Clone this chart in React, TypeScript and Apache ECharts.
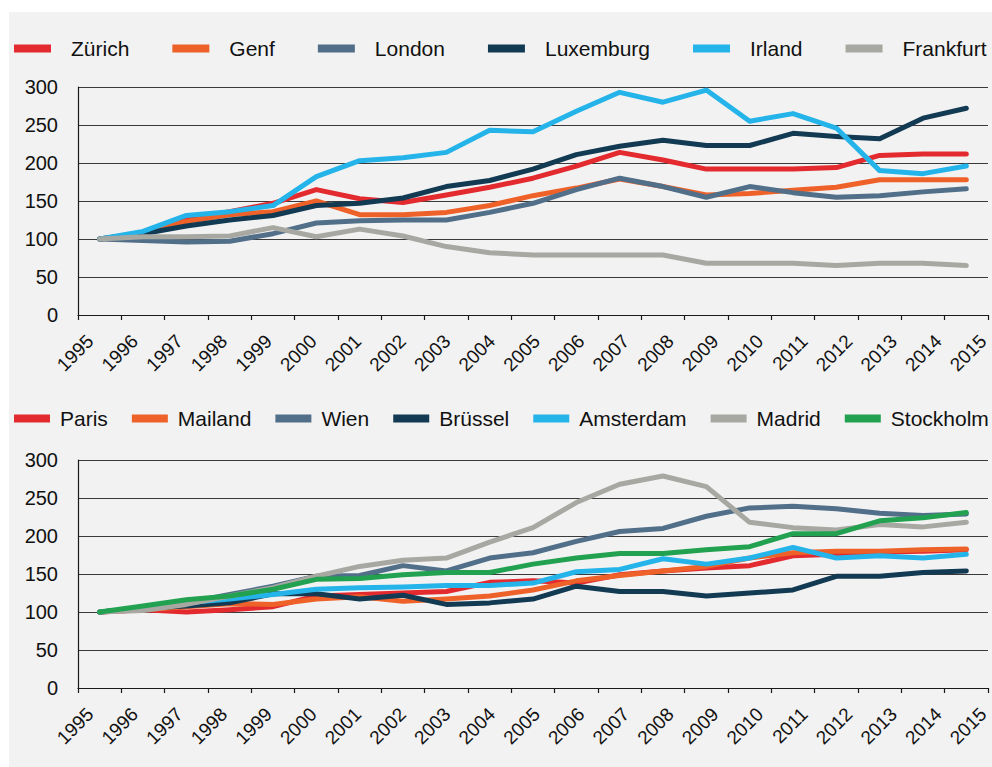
import React, { useEffect, useRef } from "react";
import * as echarts from "echarts";

const years = ["1995","1996","1997","1998","1999","2000","2001","2002","2003","2004","2005","2006","2007","2008","2009","2010","2011","2012","2013","2014","2015"];

const topNames = ["Zürich", "Genf", "London", "Luxemburg", "Irland", "Frankfurt"];
const zurich = [100,108,125,136,147,165,153,148,158,168,180,196,214,204,192,192,192,194,210,212,212];
const genf = [100,107,123,132,136,150,132,132,135,144,157,167,179,169,158,160,164,168,178,178,178];
const london = [100,98,96,97,107,121,124,125,125,135,147,165,180,169,155,169,161,155,157,162,166];
const luxemburg = [100,107,117,125,131,144,147,154,169,177,192,211,222,230,223,223,239,235,232,259,272];
const irland = [100,110,131,136,144,182,203,207,214,243,241,268,293,280,296,255,265,246,190,186,196];
const frankfurt = [100,103,103,104,115,103,113,104,90,82,79,79,79,79,68,68,68,65,68,68,65];

const bottomNames = ["Paris", "Mailand", "Wien", "Brüssel", "Amsterdam", "Madrid", "Stockholm"];
const paris = [100,103,100,103,107,121,123,125,127,139,141,138,149,154,158,161,174,176,179,180,182];
const mailand = [100,103,107,111,110,117,120,114,117,121,129,141,148,154,160,171,178,180,180,182,183];
const wien = [100,105,112,123,134,147,148,161,154,171,178,193,206,210,226,237,239,236,230,227,229];
const bruessel = [100,105,108,112,124,124,117,122,110,112,117,134,127,127,121,125,129,147,147,152,154];
const amsterdam = [100,105,112,117,123,130,132,133,135,135,138,153,156,170,163,171,185,171,174,171,176];
const madrid = [100,102,110,121,132,147,160,168,171,192,211,244,268,279,265,218,211,208,215,212,218];
const stockholm = [100,108,116,121,130,143,144,149,152,152,163,171,177,177,182,186,203,203,220,224,231];

const yTicks = { min: 0, max: 300, interval: 50 };

const topColors = ["#e32a2f", "#ee6229", "#526f8a", "#133a53", "#25b4e9", "#a8a8a3"];
const bottomColors = ["#e32a2f", "#ee6229", "#526f8a", "#133a53", "#25b4e9", "#a8a8a3", "#22a250"];

const FONT = "'Liberation Sans', Arial, Helvetica, sans-serif";

export default function App() {
  const ref = useRef<HTMLDivElement>(null);
  useEffect(() => {
    document.body.style.margin = "0";
    const chart = echarts.init(ref.current!, null, { renderer: "svg" });

    const topData = [zurich, genf, london, luxemburg, irland, frankfurt];
    const bottomData = [paris, mailand, wien, bruessel, amsterdam, madrid, stockholm];

    const mainX = (gridIndex: number) => ({
      type: "category",
      gridIndex,
      data: years,
      boundaryGap: true,
      axisLine: { show: true, lineStyle: { color: "#1a1a1a", width: 1.2 } },
      axisTick: { show: true, length: 5, interval: 0, lineStyle: { color: "#1a1a1a", width: 1.2 } },
      axisLabel: { show: false },
      splitLine: { show: false },
    });
    const labelX = (gridIndex: number) => ({
      type: "category",
      gridIndex,
      data: years,
      boundaryGap: false,
      axisLine: { show: false },
      axisTick: { show: false },
      splitLine: { show: false },
      axisLabel: {
        show: true,
        interval: 0,
        rotate: 45,
        margin: 23,
        fontSize: 19,
        color: "#111",
        fontFamily: FONT,
      },
    });
    const mainY = (gridIndex: number) => ({
      type: "value",
      gridIndex,
      ...yTicks,
      axisLine: { show: true, lineStyle: { color: "#1a1a1a", width: 1.2 } },
      axisTick: { show: false },
      splitLine: { show: true, lineStyle: { color: "#3a3a3a", width: 1 } },
      axisLabel: { fontSize: 20, margin: 20, color: "#111", fontFamily: FONT },
    });
    const hiddenY = (gridIndex: number) => ({
      type: "value",
      gridIndex,
      ...yTicks,
      show: false,
    });

    const mkSeries = (names: string[], data: number[][], colors: string[], xi: number, yi: number) =>
      names.map((name, i) => ({
        name,
        type: "line",
        xAxisIndex: xi,
        yAxisIndex: yi,
        data: data[i],
        symbol: "none",
        color: colors[i],
        lineStyle: { width: 5, color: colors[i], cap: "round", join: "round" },
      }));

    const legendBase = {
      icon: "rect",
      itemHeight: 8,
      orient: "horizontal",
      padding: 0,
      width: 980,
      itemStyle: { borderWidth: 0 },
      textStyle: { fontSize: 21, color: "#111", fontFamily: FONT },
    };

    chart.setOption({
      animation: false,
      backgroundColor: "#f2f2f2",
      graphic: [
        { type: "rect", shape: { x: 0, y: 0, width: 992, height: 12 }, style: { fill: "#ffffff" }, silent: true },
        { type: "rect", shape: { x: 0, y: 0, width: 9, height: 767 }, style: { fill: "#ffffff" }, silent: true },
      ],
      legend: [
        {
          ...legendBase,
          data: topNames,
          left: 14,
          top: 38,
          itemWidth: 37,
          itemGap: 43,
          textStyle: { ...legendBase.textStyle, padding: [0, 0, 0, 15] },
        },
        {
          ...legendBase,
          data: bottomNames,
          left: 14,
          top: 408,
          itemWidth: 36,
          itemGap: 24,
          textStyle: { ...legendBase.textStyle, padding: [0, 0, 0, 5] },
        },
      ],
      grid: [
        { left: 78, right: 4, top: 87, height: 228 },
        { left: 90, right: 9, top: 87, height: 228 },
        { left: 78, right: 4, top: 460, height: 228 },
        { left: 90, right: 9, top: 460, height: 228 },
      ],
      xAxis: [mainX(0), labelX(1), mainX(2), labelX(3)],
      yAxis: [mainY(0), hiddenY(1), mainY(2), hiddenY(3)],
      series: [
        ...mkSeries(topNames, topData, topColors, 0, 0),
        ...mkSeries(bottomNames, bottomData, bottomColors, 2, 2),
      ],
    });
    return () => chart.dispose();
  }, []);
  return <div ref={ref} style={{ width: 992, height: 767 }} />;
}
